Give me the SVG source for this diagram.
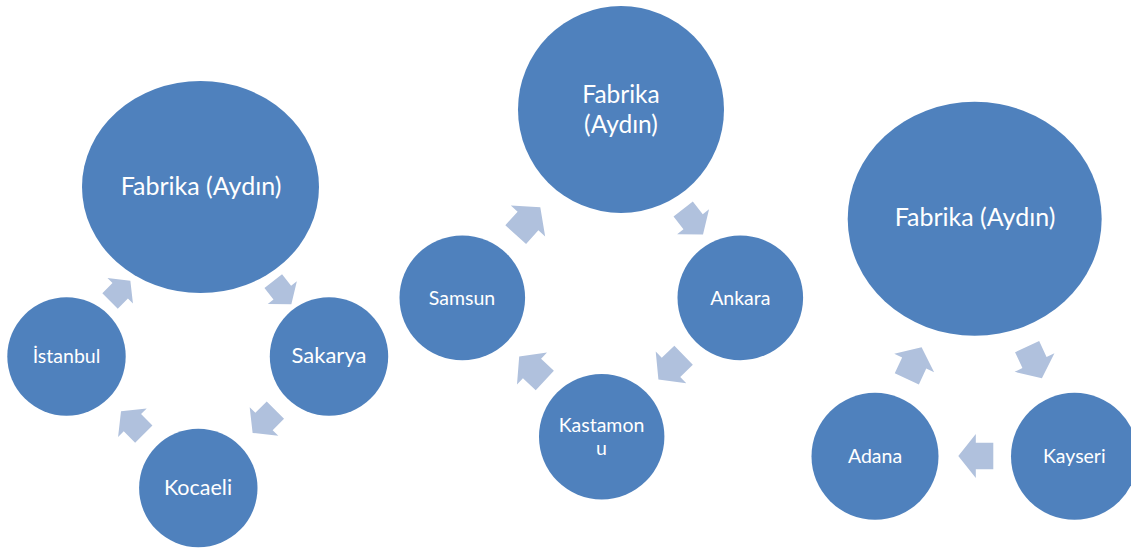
<svg xmlns="http://www.w3.org/2000/svg" width="1131" height="548" viewBox="0 0 1131 548">
<style>
.node{fill:#4F81BD;}
.lbl{fill:#FFFFFF;font-family:Lato,"Open Sans","Liberation Sans",sans-serif;text-anchor:middle;}
.arr{fill:#B0C1DD;}
</style>
<defs>
<path id="blk" d="M-17.5,-13.3 H0 V-22 L17.5,0 L0,22 V13.3 H-17.5 Z"/>
</defs>
<rect width="1131" height="548" fill="#FFFFFF"/>
<g id="connectors">
<use href="#blk" class="arr" transform="translate(120.2,290.8) rotate(-45) scale(0.82)"/>
<use href="#blk" class="arr" transform="translate(282.3,292.6) rotate(52) scale(0.84)"/>
<use href="#blk" class="arr" transform="translate(264,421.5) rotate(135) scale(0.92)"/>
<use href="#blk" class="arr" transform="translate(132.4,422.7) rotate(-135) scale(0.92)"/>
<use href="#blk" class="arr" transform="translate(528,221) rotate(-48) scale(1.05)"/>
<use href="#blk" class="arr" transform="translate(693.1,221.7) rotate(52) scale(0.92)"/>
<use href="#blk" class="arr" transform="translate(671,367.4) rotate(136) scale(1.0)"/>
<use href="#blk" class="arr" transform="translate(532,368.5) rotate(-137) scale(1.0)"/>
<use href="#blk" class="arr" transform="translate(914.2,363) rotate(-65) scale(1.0)"/>
<use href="#blk" class="arr" transform="translate(1034.5,362.5) rotate(65) scale(1.0)"/>
<use href="#blk" class="arr" transform="translate(975.8,456) rotate(180)"/>
</g>
<g id="d1-fabrika"><ellipse class="node" cx="200.5" cy="187" rx="118.5" ry="106"/><text class="lbl" x="201" y="195" font-size="25">Fabrika (Aydın)</text></g>
<g id="d1-istanbul"><circle class="node" cx="66.5" cy="356.5" r="59.2"/><text class="lbl" x="66.5" y="363" font-size="19.5">İstanbul</text></g>
<g id="d1-sakarya"><circle class="node" cx="329" cy="356.5" r="59.2"/><text class="lbl" x="329" y="363" font-size="22">Sakarya</text></g>
<g id="d1-kocaeli"><circle class="node" cx="198.3" cy="488" r="59.2"/><text class="lbl" x="198" y="495" font-size="21.5">Kocaeli</text></g>
<g id="d2-fabrika"><ellipse class="node" cx="621" cy="109.5" rx="103" ry="103.5"/><text class="lbl" x="621" y="103" font-size="24.5">Fabrika</text><text class="lbl" x="621" y="132.5" font-size="24.5">(Aydın)</text></g>
<g id="d2-samsun"><ellipse class="node" cx="462.3" cy="297.8" rx="62.8" ry="62.4"/><text class="lbl" x="462" y="305" font-size="19.5">Samsun</text></g>
<g id="d2-ankara"><ellipse class="node" cx="740.3" cy="297.8" rx="62.8" ry="62.4"/><text class="lbl" x="740.3" y="305" font-size="19.5">Ankara</text></g>
<g id="d2-kastamonu"><ellipse class="node" cx="601.7" cy="436.7" rx="62.7" ry="62.8"/><text class="lbl" x="601.5" y="431.7" font-size="19.5">Kastamon</text><text class="lbl" x="601.5" y="455" font-size="19.5">u</text></g>
<g id="d3-fabrika"><ellipse class="node" cx="974.7" cy="218.8" rx="127" ry="117"/><text class="lbl" x="975" y="226" font-size="25">Fabrika (Aydın)</text></g>
<g id="d3-adana"><circle class="node" cx="875" cy="456.3" r="63.5"/><text class="lbl" x="875" y="462.7" font-size="19.5">Adana</text></g>
<g id="d3-kayseri"><circle class="node" cx="1074.5" cy="456.3" r="63.5"/><text class="lbl" x="1074.3" y="462.7" font-size="19.5">Kayseri</text></g>
</svg>
